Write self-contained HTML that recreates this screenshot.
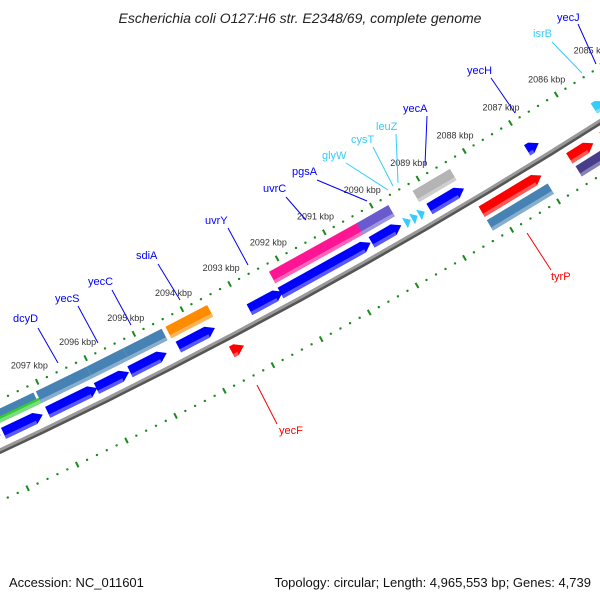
<!DOCTYPE html>
<html><head><meta charset="utf-8"><style>
html,body{margin:0;padding:0;background:#fff;}
svg{display:block;font-family:"Liberation Sans",sans-serif;}
</style></head><body>
<svg id="map" width="600" height="600" viewBox="0 0 600 600" xmlns="http://www.w3.org/2000/svg">
<rect width="600" height="600" fill="#fff"/>
<text x="300" y="23" text-anchor="middle" font-size="14" font-style="italic" fill="#222">Escherichia coli O127:H6 str. E2348/69, complete genome</text>
<g id="ticks"></g><g id="backbone"></g><g id="feats"></g><g id="labels"></g>
<text x="9" y="587" font-size="13" fill="#111">Accession: NC_011601</text>
<text x="591" y="587" text-anchor="end" font-size="13" fill="#111">Topology: circular; Length: 4,965,553 bp; Genes: 4,739</text>
</svg>
<script>
// genome features (kbp)
const featStart = [2098.6,2097.97,2097.07,2096.07,2095.38,2094.38,2092.9,2092.25,2090.33,2089.1,2087.0,2089.62,2089.47,2089.32,2085.55,
  2098.3,2098.3,2097.1,2096.05,2095.3,2094.42,2092.25,2090.4,2089.2,
  2088.3,2086.42,2085.7,2093.55,2088.3,2086.4];
const featEnd = [2098.03,2097.17,2096.05,2095.4,2094.62,2093.62,2092.2,2090.35,2089.7,2088.36,2086.75,2089.5,2089.35,2089.2,2085.3,
  2097.15,2097.1,2096.05,2095.3,2094.5,2093.55,2090.37,2089.72,2088.4,
  2087.02,2085.9,2085.2,2093.3,2087.0,2085.8];
const featTrack = ['A','A','A','A','A','A','A','A','A','A','A','A','A','A','A',
  'B','B2','B','B','B','B','B','B','B',
  'C','C','C','C','D','D'];
const featDir = [1,1,1,1,1,1,1,1,1,1,1,1,1,1,1, 0,0,0,0,0,0,0,0,0, -1,-1,-1,-1,0,0];
const featColor = ['#0000ff','#0000ff','#0000ff','#0000ff','#0000ff','#0000ff','#0000ff','#0000ff','#0000ff','#0000ff','#0000ff','#33ccff','#33ccff','#33ccff','#33ccff',
  '#4682b4','#33cc33','#4682b4','#4682b4','#4682b4','#ff8c00','#ff1493','#6a5acd','#b4b4b4',
  '#ff0000','#ff0000','#ff0000','#ff0000','#4682b4','#483d8b'];
const tickKbp = [2084,2085,2086,2087,2088,2089,2090,2091,2092,2093,2094,2095,2096,2097,2098,2099];
const tickLabels = ['2084 kbp','2085 kbp','2086 kbp','2087 kbp','2088 kbp','2089 kbp','2090 kbp','2091 kbp','2092 kbp','2093 kbp','2094 kbp','2095 kbp','2096 kbp','2097 kbp','2098 kbp','2099 kbp'];

const NS='http://www.w3.org/2000/svg';
const CX=-2292, CY=-4439, R=5400;
function ang(k){return (62.48+(k-2094)*0.5775)*Math.PI/180;}
function pos(k,d){const a=ang(k);return [CX+(R-d)*Math.cos(a), CY+(R-d)*Math.sin(a)];}
function mk(tag,parent){const e=document.createElementNS(NS,tag);parent.appendChild(e);return e;}
function pts(list){return list.map(p=>p[0].toFixed(1)+','+p[1].toFixed(1)).join(' ');}
function arc(k1,k2,d){const out=[];const n=12;for(let i=0;i<=n;i++){out.push(pos(k1+(k2-k1)*i/n,d));}return out;}
function lighten(c){const n=parseInt(c.slice(1),16);let r=n>>16,g=(n>>8)&255,b=n&255;r=Math.round(r+(255-r)*0.35);g=Math.round(g+(255-g)*0.35);b=Math.round(b+(255-b)*0.35);return 'rgb('+r+','+g+','+b+')';}
const tracks={A:[8,20],B:[25,38],B2:[25,31],C:[-9,-21],D:[-25,-37]};

// ticks
const tg=document.getElementById('ticks');
[46,-46].forEach(ring=>{
  for(let k=2084;k<=2099.001;k+=0.2){
    const kk=Math.round(k*10)/10;
    const major=Math.abs(kk-Math.round(kk))<0.01;
    if(major) continue;
    const p=pos(kk,ring);
    const c=mk('circle',tg);
    
    
    c.setAttribute('cx',p[0]);c.setAttribute('cy',p[1]);c.setAttribute('r',1.2);c.setAttribute('fill','#1a8a1a');
  }
  tickKbp.forEach(k=>{
    const a=pos(k,ring+3),b=pos(k,ring-3);
    const l=mk('line',tg);
    
    
    l.setAttribute('x1',a[0]);l.setAttribute('y1',a[1]);l.setAttribute('x2',b[0]);l.setAttribute('y2',b[1]);
    l.setAttribute('stroke','#1a8a1a');l.setAttribute('stroke-width',2);
  });
});
tickKbp.forEach((k,i)=>{
  const p=pos(k,64);
  const t=mk('text',tg);
  
  
  t.setAttribute('x',p[0]);t.setAttribute('y',p[1]+3);t.setAttribute('text-anchor','middle');
  t.setAttribute('font-size','9');t.setAttribute('fill','#333');
  t.textContent=tickLabels[i];
});

// backbone
const bg=document.getElementById('backbone');
const sh=mk('polyline',bg);


sh.setAttribute('points',pts(arc(2100,2084,-2)));sh.setAttribute('fill','none');sh.setAttribute('stroke','#555');sh.setAttribute('stroke-width',3);
const bb=mk('polyline',bg);


bb.setAttribute('points',pts(arc(2100,2084,0.5)));bb.setAttribute('fill','none');bb.setAttribute('stroke','#999');bb.setAttribute('stroke-width',3);

// features
const fg=document.getElementById('feats');
featStart.forEach((s,i)=>{
  const e=featEnd[i];const lo=Math.min(s,e),hi=Math.max(s,e);
  const [d1,d2]=tracks[featTrack[i]];const dm=(d1+d2)/2;
  const dir=featDir[i];const h=Math.min(0.16,(hi-lo));
  let poly, stripEnds;
  if(dir===1){
    poly=[pos(hi,d1),pos(hi,d2),pos(lo+h,d2),pos(lo,dm),pos(lo+h,d1)];stripEnds=[hi,lo+h];
  }else if(dir===-1){
    poly=[pos(lo,dm),pos(hi-h,d2),pos(hi,d2),pos(hi,d1),pos(hi-h,d1)];stripEnds=[hi,hi-h];
    poly=[pos(lo+h,d2),pos(hi,d2),pos(hi,d1),pos(lo+h,d1),pos(lo,dm)];stripEnds=[lo+h,hi];
  }else{
    poly=[pos(hi,d1),pos(hi,d2),pos(lo,d2),pos(lo,d1)];stripEnds=[hi,lo];
  }
  const p=mk('polygon',fg);
  
  
  p.setAttribute('points',pts(poly));p.setAttribute('fill',featColor[i]);
  const lowD=Math.min(d1,d2);
  const st=mk('polygon',fg);
  
  
  st.setAttribute('points',pts([pos(stripEnds[0],lowD),pos(stripEnds[0],lowD+3.5),pos(stripEnds[1],lowD+3.5),pos(stripEnds[1],lowD)]));
  st.setAttribute('fill',lighten(featColor[i]));
});

// gene labels
const lg=document.getElementById('labels');
const labels=[
 ['dcyD','#0000ff',13,322,38,328,58,363],['yecS','#0000ff',55,302,78,306,98,343],['yecC','#0000ff',88,285,112,290,131,325],
 ['sdiA','#0000ff',136,259,158,264,180,300],['uvrY','#0000ff',205,224,228,228,248,265],['uvrC','#0000ff',263,192,286,197,306,220],
 ['pgsA','#0000ff',292,175,317,180,367,201],['glyW','#33ccff',322,159,346,163,388,190],['cysT','#33ccff',351,143,373,147,393,186],
 ['leuZ','#33ccff',376,130,396,134,398,183],['yecA','#0000ff',403,112,427,116,425,165],['yecH','#0000ff',467,74,491,78,515,113],
 ['isrB','#33ccff',533,37,552,42,582,73],['yecJ','#0000ff',557,21,578,24,596,64],
 ['tyrP','#ff0000',551,280,551,270,527,233],['yecF','#ff0000',279,434,277,424,257,385]];
labels.forEach(L=>{
  const ln=mk('line',lg);
  
  
  ln.setAttribute('x1',L[4]);ln.setAttribute('y1',L[5]);ln.setAttribute('x2',L[6]);ln.setAttribute('y2',L[7]);
  ln.setAttribute('stroke',L[1]);ln.setAttribute('stroke-width',1);
  const t=mk('text',lg);
  
  
  t.setAttribute('x',L[2]);t.setAttribute('y',L[3]);t.setAttribute('font-size','11');t.setAttribute('fill',L[1]);
  t.textContent=L[0];
});
</script>
</body></html>
